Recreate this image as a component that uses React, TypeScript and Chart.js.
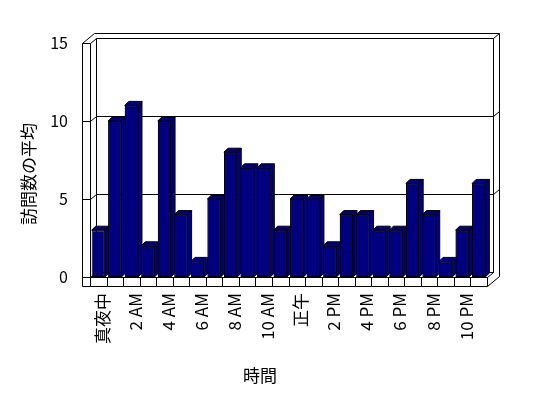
import { useEffect, useRef } from 'react';
import { Chart, registerables } from 'chart.js';

Chart.register(...registerables);

const hours = ['真夜中', '1 AM', '2 AM', '3 AM', '4 AM', '5 AM', '6 AM', '7 AM', '8 AM', '9 AM', '10 AM', '11 AM',
  '正午', '1 PM', '2 PM', '3 PM', '4 PM', '5 PM', '6 PM', '7 PM', '8 PM', '9 PM', '10 PM', '11 PM'];
const visits = [3, 10, 11, 2, 10, 4, 1, 5, 8, 7, 7, 3, 5, 5, 2, 4, 4, 3, 3, 6, 4, 1, 3, 6];
const yTickValues = [0, 5, 10, 15];
const yTitle = '訪問数の平均';
const xTitle = '時間';

const FONT = "'Noto Sans CJK JP', 'Noto Sans', sans-serif";
const NAVY = '#000080';

// 3D geometry (pixels)
const WALL = { dx: 6, dy: -5 };
const BAR = { dx: 4, dy: -4 };
const LEFT_WALL_W = 8;
const FLOOR_H = 9;

const px = (v: number) => Math.round(v) + 0.5;

function line(ctx: CanvasRenderingContext2D, x1: number, y1: number, x2: number, y2: number) {
  ctx.beginPath();
  ctx.moveTo(px(x1), px(y1));
  ctx.lineTo(px(x2), px(y2));
  ctx.stroke();
}

const threeD = {
  id: 'threeD',
  beforeDatasetsDraw(chart: any) {
    const ctx: CanvasRenderingContext2D = chart.ctx;
    const { left: L, right: R, top: T, bottom: B } = chart.chartArea;
    const ys = chart.scales.y;
    const xs = chart.scales.x;
    const y = (v: number) => ys.getPixelForValue(v);
    const { dx, dy } = WALL;
    const Lo = L - LEFT_WALL_W;
    const Fb = B + FLOOR_H;
    ctx.save();
    ctx.strokeStyle = '#000';
    ctx.lineWidth = 1;
    // left wall front face
    line(ctx, Lo, T, Lo, Fb);
    line(ctx, L, T, L, B);
    // left wall ticks and diagonal to back wall
    yTickValues.forEach((v) => {
      line(ctx, Lo, y(v), L, y(v));
      line(ctx, L, y(v), L + dx, y(v) + dy);
    });
    // outer top edge
    line(ctx, Lo, T, Lo + 2 * dx, T + 2 * dy);
    line(ctx, Lo + 2 * dx, T + 2 * dy, R + 2 * dx, T + 2 * dy);
    // back wall
    line(ctx, L + dx, T + dy, L + dx, B + dy);
    line(ctx, R + dx, T + dy, R + dx, B + dy);
    yTickValues.filter((v) => v > 0).forEach((v) => {
      line(ctx, L + dx, y(v) + dy, R + dx, y(v) + dy);
      line(ctx, R + dx, y(v) + dy, R + 2 * dx, y(v) + 2 * dy);
    });
    line(ctx, L + dx, B + dy, R + dx, B + dy);
    // outer right edge
    line(ctx, R + 2 * dx, T + 2 * dy, R + 2 * dx, Fb + 2 * dy);
    // floor
    line(ctx, Lo, Fb, R, Fb);
    line(ctx, L, B, R, B);
    line(ctx, R, B, R, Fb);
    line(ctx, R, B, R + dx, B + dy);
    line(ctx, R, Fb, R + 2 * dx, Fb + 2 * dy);
    const half = (xs.getPixelForValue(1) - xs.getPixelForValue(0)) / 2;
    for (let i = 0; i < hours.length; i++) {
      const bx = xs.getPixelForValue(i) - half;
      line(ctx, bx, B, bx, Fb);
    }
    ctx.restore();
  },
  afterDatasetsDraw(chart: any) {
    const ctx: CanvasRenderingContext2D = chart.ctx;
    const meta = chart.getDatasetMeta(0);
    const els = meta.data;
    ctx.save();
    ctx.lineWidth = 1;
    ctx.strokeStyle = '#000';
    ctx.fillStyle = NAVY;
    for (let i = 0; i < els.length; i++) {
      const el = els[i];
      const { x, y, base, width } = el.getProps(['x', 'y', 'base', 'width'], true);
      const l = x - width / 2;
      const r = x + width / 2;
      const { dx, dy } = BAR;
      // top face
      ctx.beginPath();
      ctx.moveTo(l, y);
      ctx.lineTo(r, y);
      ctx.lineTo(r + dx, y + dy);
      ctx.lineTo(l + dx, y + dy);
      ctx.closePath();
      ctx.fill();
      ctx.stroke();
      // side face
      ctx.beginPath();
      ctx.moveTo(r, y);
      ctx.lineTo(r + dx, y + dy);
      ctx.lineTo(r + dx, base + dy);
      ctx.lineTo(r, base);
      ctx.closePath();
      ctx.fill();
      ctx.stroke();
      if (i + 1 < els.length) {
        els[i + 1].draw(ctx);
      }
    }
    ctx.restore();
  },
  afterDraw(chart: any) {
    const ctx: CanvasRenderingContext2D = chart.ctx;
    ctx.save();
    ctx.fillStyle = '#000';
    ctx.font = `17px ${FONT}`;
    ctx.textAlign = 'center';
    ctx.textBaseline = 'middle';
    ctx.save();
    ctx.translate(28.5, 174);
    ctx.rotate(-Math.PI / 2);
    ctx.fillText(yTitle, 0, 0);
    ctx.restore();
    ctx.fillText(xTitle, 260, 376);
    ctx.restore();
  },
};

export default function App() {
  const ref = useRef<HTMLCanvasElement>(null);
  useEffect(() => {
    if (!ref.current) return;
    const chart = new Chart(ref.current, {
      type: 'bar',
      data: {
        labels: hours,
        datasets: [
          {
            data: visits,
            backgroundColor: NAVY,
            borderColor: '#000',
            borderWidth: 1,
            borderSkipped: false,
            barPercentage: 0.8,
            categoryPercentage: 1,
          },
        ],
      },
      options: {
        animation: false,
        responsive: false,
        maintainAspectRatio: false,
        layout: { padding: { top: 43, right: 61, left: 0, bottom: 0 } },
        plugins: { legend: { display: false }, tooltip: { enabled: false } },
        scales: {
          x: {
            grid: { display: false, drawTicks: false, tickLength: 0 },
            border: { display: false },
            ticks: {
              autoSkip: false,
              maxRotation: 90,
              minRotation: 90,
              padding: 16,
              labelOffset: 4,
              color: '#000',
              font: { family: FONT, size: 17 },
              callback: (_v: any, i: number) => (i % 2 === 0 ? hours[i] : ''),
            },
            afterFit: (s: any) => {
              s.height = 121;
            },
          },
          y: {
            min: 0,
            max: 15,
            grid: { display: false, drawTicks: false, tickLength: 0 },
            border: { display: false },
            ticks: {
              stepSize: 5,
              padding: 22,
              color: '#000',
              font: { family: FONT, size: 16 },
            },
            afterFit: (s: any) => {
              s.width = 90;
            },
          },
        },
      },
      plugins: [threeD],
    });
    return () => chart.destroy();
  }, []);
  return (
    <div style={{ position: 'absolute', left: 0, top: 0, width: 548, height: 398 }}>
      <canvas ref={ref} width={548} height={398} style={{ display: 'block' }} />
    </div>
  );
}
